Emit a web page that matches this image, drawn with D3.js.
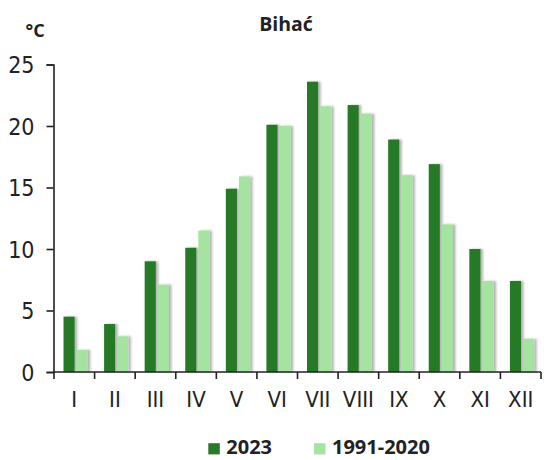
<!DOCTYPE html>
<html><head><meta charset="utf-8">
<script src="https://cdn.jsdelivr.net/npm/d3@7"></script>
<style>body{margin:0;background:#fff}svg{display:block}</style>
</head><body>
<svg id="c" width="544" height="460"></svg>
<script>
const months = ["I","II","III","IV","V","VI","VII","VIII","IX","X","XI","XII"];
const values2023 = [4.5,3.9,9.0,10.1,14.9,20.1,23.6,21.7,18.9,16.9,10.0,7.4];
const valuesNormal = [1.8,2.9,7.1,11.5,15.9,20.0,21.6,21.0,16.0,12.0,7.4,2.7];
const seriesNames = ["2023","1991-2020"];
const yTicks = [0,5,10,15,20,25];

const svg = d3.select("#c");
const font = "'Open Sans', 'DejaVu Sans', sans-serif";
const narrow = "'Liberation Sans Narrow', 'DejaVu Sans Condensed', 'Open Sans', sans-serif";
const colors = ["#287a28","#a4e3a0"];

const defs = svg.append("defs");
const f = defs.append("filter").attr("id","sh").attr("x","-20%").attr("y","-5%").attr("width","160%").attr("height","110%");
f.append("feDropShadow").attr("dx",2.5).attr("dy",0).attr("stdDeviation",1.3).attr("flood-color","#000").attr("flood-opacity",0.3);

const x = d3.scaleBand().domain(months).range([54,541]).paddingInner(0).paddingOuter(0);
const y = d3.scaleLinear().domain([0,25]).range([372,64.5]);
const inner = d3.scaleBand().domain(seriesNames).range([9.5,33.7]).paddingInner(0.15);

const data = months.map((m,i)=>({m, v:[values2023[i], valuesNormal[i]]}));

const g = svg.append("g");
data.forEach(d=>{
  seriesNames.forEach((s,j)=>{
    g.append("rect")
      .attr("x", x(d.m)+inner(s))
      .attr("y", y(d.v[j]))
      .attr("width", inner.bandwidth())
      .attr("height", y(0)-y(d.v[j]))
      .attr("fill", colors[j])
      .attr("filter","url(#sh)");
  });
});

// Y axis
const ya = svg.append("g").attr("transform","translate(53.5,0)")
  .call(d3.axisLeft(y).tickValues(yTicks).tickSize(7).tickPadding(12));
ya.select(".domain").attr("stroke","#222").attr("stroke-width",1.6);
ya.selectAll(".tick line").attr("stroke","#222").attr("stroke-width",1.6);
ya.selectAll(".tick text").attr("font-family",narrow).attr("font-size",23).attr("fill","#222").attr("dy","0.36em");

// X axis
const xa = svg.append("g").attr("transform","translate(0,372)")
  .call(d3.axisBottom(x).tickSize(0).tickPadding(0));
xa.select(".domain").attr("d","M53.5,0H541").attr("stroke","#222").attr("stroke-width",1.6);
xa.selectAll(".tick text").attr("font-family",narrow).attr("font-size",22).attr("fill","#222").attr("dy",null).attr("y",34.5);
xa.selectAll(".sep").data(d3.range(months.length+1)).enter().append("line")
  .attr("x1",i=>x.range()[0]+i*x.step()).attr("x2",i=>x.range()[0]+i*x.step())
  .attr("y1",0).attr("y2",7).attr("stroke","#222").attr("stroke-width",1.6);

// Title & unit
svg.append("text").attr("x",286).attr("y",30.7).attr("text-anchor","middle")
  .attr("font-family",font).attr("font-weight","bold").attr("font-size",19.5).attr("fill","#222").text("Bihać");
svg.append("text").attr("x",25.5).attr("y",36.7)
  .attr("font-family",font).attr("font-weight","bold").attr("font-size",18).attr("fill","#222").text("°C");

// Legend
const legX = [208.3,314];
const lg = svg.append("g");
seriesNames.forEach((s,j)=>{
  lg.append("rect").attr("x",legX[j]).attr("y",443.2).attr("width",11.5).attr("height",11.2).attr("fill",colors[j]);
  lg.append("text").attr("x",legX[j]+18).attr("y",454).attr("font-family",font).attr("font-weight","bold")
    .attr("font-size",20).attr("fill","#222").text(s);
});
</script>
</body></html>
